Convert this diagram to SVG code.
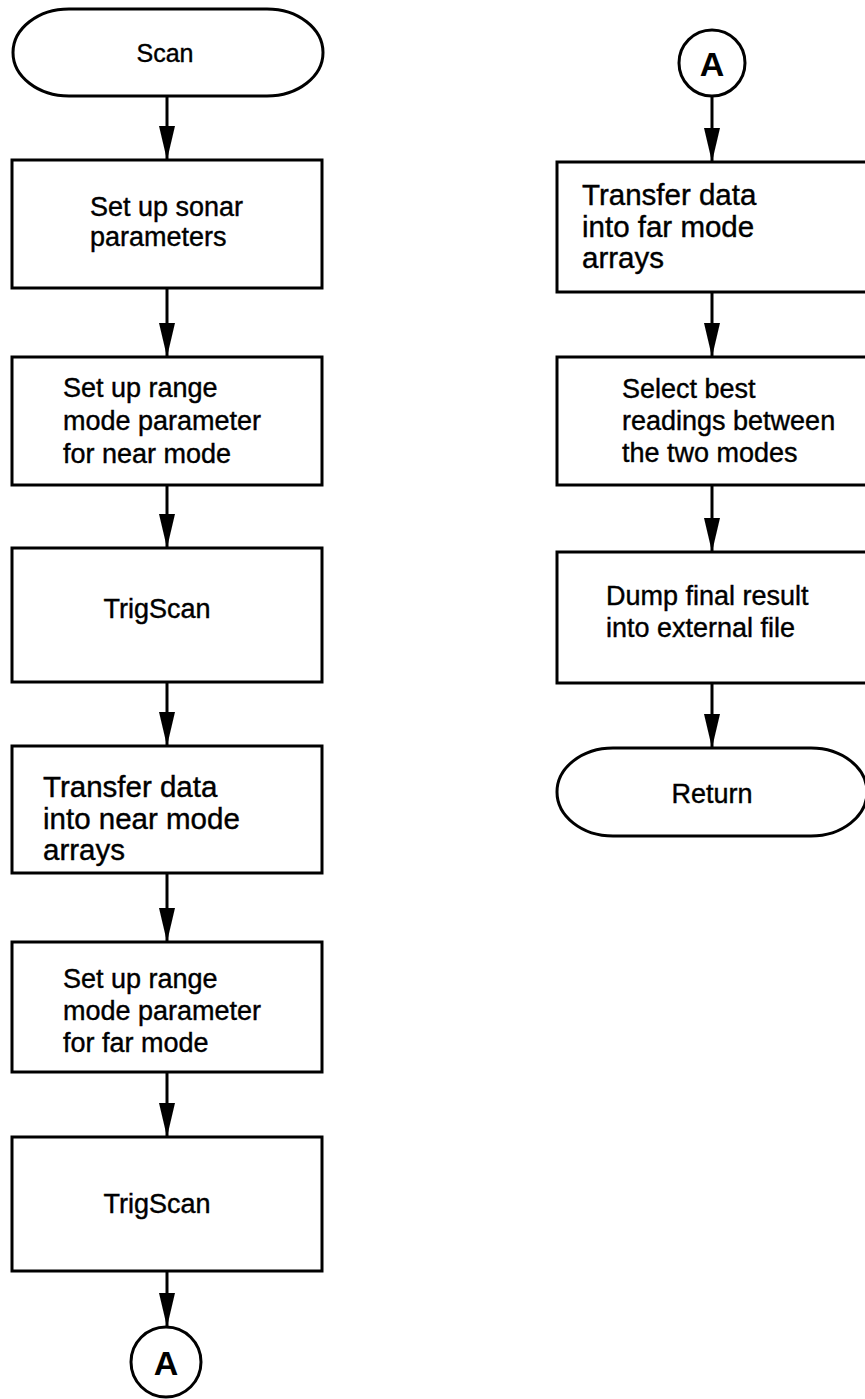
<svg xmlns="http://www.w3.org/2000/svg" width="865" height="1399" viewBox="0 0 865 1399">
  <style>
    .shape { fill: #ffffff; stroke: #000000; stroke-width: 3; }
    .flow { stroke: #000000; stroke-width: 3; fill: none; marker-end: url(#head); }
    .label { font-family: "Liberation Sans", Arial, Helvetica, sans-serif; font-size: 27px; fill: #000000; stroke: #000000; stroke-width: 0.4; }
    .wide { font-size: 29.5px; }
    .mid { text-anchor: middle; }
    .conn { font-family: "Liberation Sans", Arial, Helvetica, sans-serif; font-size: 34px; font-weight: bold; text-anchor: middle; fill: #000000; }
  </style>
  <defs>
    <!-- filled arrowhead, tip at the end of the line -->
    <marker id="head" markerUnits="userSpaceOnUse" markerWidth="34" markerHeight="18" viewBox="0 0 34 18" refX="34" refY="9" orient="auto">
      <path d="M0,1 L0,17 L34,9 Z" fill="#000000"/>
    </marker>
  </defs>
  <rect width="865" height="1399" fill="#ffffff"/>

  <!-- connectors -->
  <g id="connectors">
    <line class="flow" x1="167" y1="96" x2="167" y2="160"/>
    <line class="flow" x1="167" y1="289" x2="167" y2="357"/>
    <line class="flow" x1="167" y1="486" x2="167" y2="548"/>
    <line class="flow" x1="167" y1="683" x2="167" y2="746"/>
    <line class="flow" x1="167" y1="874" x2="167" y2="942"/>
    <line class="flow" x1="167" y1="1073" x2="167" y2="1137"/>
    <line class="flow" x1="167" y1="1272" x2="167" y2="1327"/>
    <line class="flow" x1="712" y1="97" x2="712" y2="162"/>
    <line class="flow" x1="712" y1="293" x2="712" y2="357"/>
    <line class="flow" x1="712" y1="486" x2="712" y2="552"/>
    <line class="flow" x1="712" y1="684" x2="712" y2="748"/>
  </g>

  <!-- left column -->
  <g id="start">
    <rect class="shape" x="13" y="9" width="310" height="87" rx="56" ry="43.5"/>
    <text class="label mid" x="165" y="62" style="font-size:25px">Scan</text>
  </g>
  <g id="sonar-params">
    <rect class="shape" x="12" y="160" width="310" height="128"/>
    <text class="label" x="90" y="216">Set up sonar</text>
    <text class="label" x="90" y="246">parameters</text>
  </g>
  <g id="near-range">
    <rect class="shape" x="12" y="357" width="310" height="128"/>
    <text class="label" x="63" y="397">Set up range</text>
    <text class="label" x="63" y="430">mode parameter</text>
    <text class="label" x="63" y="463">for near mode</text>
  </g>
  <g id="trigscan-near">
    <rect class="shape" x="12" y="548" width="310" height="134"/>
    <text class="label mid" x="157" y="618">TrigScan</text>
  </g>
  <g id="near-transfer">
    <rect class="shape" x="12" y="746" width="310" height="127"/>
    <text class="label wide" x="43" y="797">Transfer data</text>
    <text class="label wide" x="43" y="829">into near mode</text>
    <text class="label wide" x="43" y="860">arrays</text>
  </g>
  <g id="far-range">
    <rect class="shape" x="12" y="942" width="310" height="130"/>
    <text class="label" x="63" y="988">Set up range</text>
    <text class="label" x="63" y="1020">mode parameter</text>
    <text class="label" x="63" y="1052">for far mode</text>
  </g>
  <g id="trigscan-far">
    <rect class="shape" x="12" y="1137" width="310" height="134"/>
    <text class="label mid" x="157" y="1213">TrigScan</text>
  </g>
  <g id="off-page-a">
    <circle class="shape" cx="166" cy="1362" r="35"/>
    <text class="conn" x="166" y="1375">A</text>
  </g>

  <!-- right column -->
  <g id="on-page-a">
    <circle class="shape" cx="712" cy="63" r="33"/>
    <text class="conn" x="712" y="76">A</text>
  </g>
  <g id="far-transfer">
    <rect class="shape" x="557" y="162" width="312" height="130"/>
    <text class="label wide" x="582" y="205">Transfer data</text>
    <text class="label wide" x="582" y="237">into far mode</text>
    <text class="label wide" x="582" y="268">arrays</text>
  </g>
  <g id="select-best">
    <rect class="shape" x="557" y="357" width="312" height="128"/>
    <text class="label" x="622" y="398">Select best</text>
    <text class="label" x="622" y="430">readings between</text>
    <text class="label" x="622" y="462">the two modes</text>
  </g>
  <g id="dump-result">
    <rect class="shape" x="557" y="552" width="312" height="131"/>
    <text class="label" x="606" y="605">Dump final result</text>
    <text class="label" x="606" y="637">into external file</text>
  </g>
  <g id="return">
    <rect class="shape" x="557" y="748" width="310" height="88" rx="56" ry="44"/>
    <text class="label mid" x="712" y="803">Return</text>
  </g>
</svg>
